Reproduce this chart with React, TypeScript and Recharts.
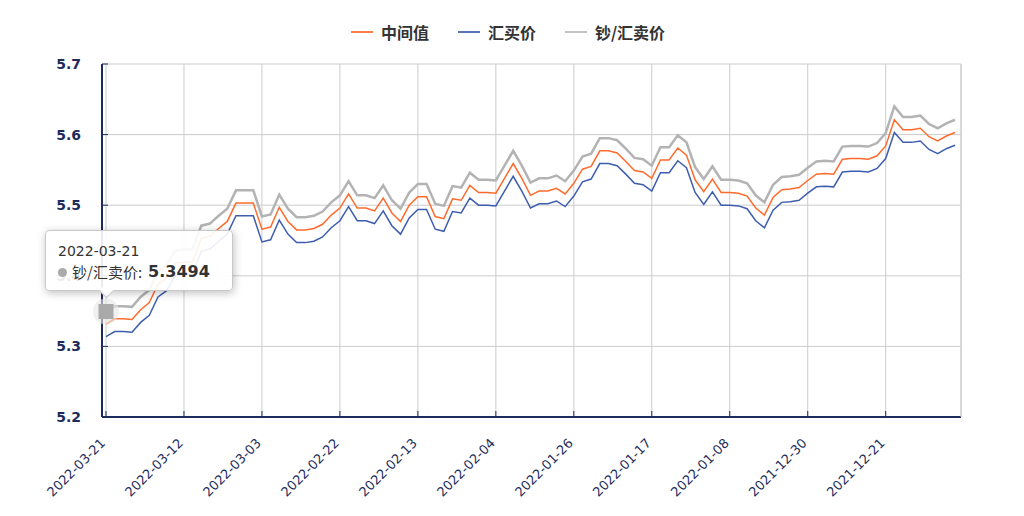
import { LineChart, Line, XAxis, YAxis, CartesianGrid, Tooltip, Legend } from "recharts";

// newest first, as in the source table
const dates = [
  "2022-03-21", "2022-03-20", "2022-03-19", "2022-03-18", "2022-03-17", "2022-03-16", "2022-03-15",
  "2022-03-14", "2022-03-13", "2022-03-12", "2022-03-11", "2022-03-10", "2022-03-09", "2022-03-08",
  "2022-03-07", "2022-03-06", "2022-03-05", "2022-03-04", "2022-03-03", "2022-03-02", "2022-03-01",
  "2022-02-28", "2022-02-27", "2022-02-26", "2022-02-25", "2022-02-24", "2022-02-23", "2022-02-22",
  "2022-02-21", "2022-02-20", "2022-02-19", "2022-02-18", "2022-02-17", "2022-02-16", "2022-02-15",
  "2022-02-14", "2022-02-13", "2022-02-12", "2022-02-11", "2022-02-10", "2022-02-09", "2022-02-08",
  "2022-02-07", "2022-02-06", "2022-02-05", "2022-02-04", "2022-02-03", "2022-02-02", "2022-02-01",
  "2022-01-31", "2022-01-30", "2022-01-29", "2022-01-28", "2022-01-27", "2022-01-26", "2022-01-25",
  "2022-01-24", "2022-01-23", "2022-01-22", "2022-01-21", "2022-01-20", "2022-01-19", "2022-01-18",
  "2022-01-17", "2022-01-16", "2022-01-15", "2022-01-14", "2022-01-13", "2022-01-12", "2022-01-11",
  "2022-01-10", "2022-01-09", "2022-01-08", "2022-01-07", "2022-01-06", "2022-01-05", "2022-01-04",
  "2022-01-03", "2022-01-02", "2022-01-01", "2021-12-31", "2021-12-30", "2021-12-29", "2021-12-28",
  "2021-12-27", "2021-12-26", "2021-12-25", "2021-12-24", "2021-12-23", "2021-12-22", "2021-12-21",
  "2021-12-20", "2021-12-19", "2021-12-18", "2021-12-17", "2021-12-16", "2021-12-15", "2021-12-14",
  "2021-12-13",
];

const midRate = [
  5.3316, 5.339, 5.339, 5.338, 5.352, 5.362, 5.388, 5.397, 5.418, 5.419, 5.42, 5.453, 5.456, 5.467,
  5.477, 5.503, 5.503, 5.503, 5.466, 5.469, 5.497, 5.477, 5.465, 5.465, 5.467, 5.473, 5.486, 5.496,
  5.516, 5.496, 5.496, 5.492, 5.51, 5.489, 5.477, 5.5, 5.512, 5.512, 5.484, 5.481, 5.509, 5.507,
  5.528, 5.518, 5.518, 5.517, 5.538, 5.559, 5.538, 5.514, 5.52, 5.52, 5.524, 5.516, 5.531, 5.551,
  5.555, 5.577, 5.577, 5.574, 5.562, 5.549, 5.547, 5.538, 5.564, 5.564, 5.581, 5.571, 5.536, 5.519,
  5.537, 5.518, 5.518, 5.517, 5.513, 5.496, 5.486, 5.511, 5.522, 5.523, 5.525, 5.535, 5.544, 5.545,
  5.544, 5.565, 5.566, 5.566, 5.565, 5.57, 5.584, 5.621, 5.607, 5.607, 5.609, 5.597, 5.591, 5.598,
  5.603,
];

const buyRate = [
  5.3138, 5.321, 5.321, 5.32, 5.334, 5.344, 5.37, 5.379, 5.4, 5.401, 5.402, 5.435, 5.438, 5.449,
  5.459, 5.485, 5.485, 5.485, 5.448, 5.451, 5.479, 5.459, 5.447, 5.447, 5.449, 5.455, 5.468, 5.478,
  5.498, 5.478, 5.478, 5.474, 5.492, 5.471, 5.459, 5.482, 5.494, 5.494, 5.466, 5.463, 5.491, 5.489,
  5.51, 5.5, 5.5, 5.499, 5.52, 5.541, 5.52, 5.496, 5.502, 5.502, 5.506, 5.498, 5.513, 5.533,
  5.537, 5.559, 5.559, 5.556, 5.544, 5.531, 5.529, 5.52, 5.546, 5.546, 5.563, 5.553, 5.518, 5.501,
  5.519, 5.5, 5.5, 5.499, 5.495, 5.478, 5.468, 5.493, 5.504, 5.505, 5.507, 5.517, 5.526, 5.527,
  5.526, 5.547, 5.548, 5.548, 5.547, 5.552, 5.566, 5.603, 5.589, 5.589, 5.591, 5.579, 5.573, 5.58,
  5.585,
];

const sellRate = [
  5.3494, 5.357, 5.357, 5.356, 5.37, 5.38, 5.406, 5.415, 5.436, 5.437, 5.438, 5.471, 5.474, 5.485,
  5.495, 5.521, 5.521, 5.521, 5.484, 5.487, 5.515, 5.495, 5.483, 5.483, 5.485, 5.491, 5.504, 5.514,
  5.534, 5.514, 5.514, 5.51, 5.528, 5.507, 5.495, 5.518, 5.53, 5.53, 5.502, 5.499, 5.527, 5.525,
  5.546, 5.536, 5.536, 5.535, 5.556, 5.577, 5.556, 5.532, 5.538, 5.538, 5.542, 5.534, 5.549, 5.569,
  5.573, 5.595, 5.595, 5.592, 5.58, 5.567, 5.565, 5.556, 5.582, 5.582, 5.599, 5.589, 5.554, 5.537,
  5.555, 5.536, 5.536, 5.535, 5.531, 5.514, 5.504, 5.529, 5.54, 5.541, 5.543, 5.553, 5.562, 5.563,
  5.562, 5.583, 5.584, 5.584, 5.583, 5.588, 5.602, 5.64, 5.625, 5.625, 5.627, 5.615, 5.609, 5.616,
  5.621,
];

const yTicks = [5.2, 5.3, 5.4, 5.5, 5.6, 5.7];

const SERIES = [
  { key: "mid", name: "中间值", color: "#ff6b2c", legend: "#fb7d47", width: 1.5 },
  { key: "buy", name: "汇买价", color: "#3d5daf", legend: "#5a72b9", width: 1.5 },
  { key: "sell", name: "钞/汇卖价", color: "#b3b3b3", legend: "#c4c4c4", width: 2.5 },
];

const data = dates.map((date, i) => ({ date, mid: midRate[i], buy: buyRate[i], sell: sellRate[i] }));

const NAVY = "#1d2b5c";
const CJK = "'Noto Sans CJK SC', 'Noto Sans', sans-serif";
const LATIN = "'DejaVu Sans', Verdana, sans-serif";

function DateTick({ x, y, payload }: any) {
  return (
    <text
      x={x}
      y={y}
      transform={`rotate(-45 ${x} ${y})`}
      textAnchor="end"
      fill={NAVY}
      fontSize={13}
      fontFamily={LATIN}
    >
      {payload.value}
    </text>
  );
}

function LegendRow() {
  return (
    <div style={{ display: "flex", justifyContent: "center", gap: 29, height: 24, alignItems: "center" }}>
      {SERIES.map((s) => (
        <div key={s.key} style={{ display: "flex", alignItems: "center" }}>
          <span style={{ width: 22, height: 2, background: s.legend, marginRight: 8, display: "inline-block" }} />
          <span style={{ fontFamily: CJK, fontSize: 16, fontWeight: 700, color: "#333" }}>{s.name}</span>
        </div>
      ))}
    </div>
  );
}

function TipBox({ active, payload, label }: any) {
  if (!active || !payload || !payload.length) return null;
  const item = payload.find((p: any) => p.dataKey === "sell") || payload[0];
  return (
    <div
      style={{
        position: "relative",
        width: 162,
        padding: "10px 12px 7px",
        background: "rgba(255,255,255,0.9)",
        border: "1px solid #c8c8c8",
        borderRadius: 4,
        boxShadow: "1px 2px 8px rgba(0,0,0,0.25)",
        fontFamily: LATIN,
        color: "#333",
      }}
    >
      <div style={{ fontSize: 14, lineHeight: "20px" }}>{label}</div>
      <div style={{ display: "flex", alignItems: "center", lineHeight: "22px" }}>
        <span style={{ width: 9, height: 9, borderRadius: 5, background: "#aaa", marginRight: 5 }} />
        <span style={{ fontFamily: CJK, fontSize: 15 }}>{item.name}: </span>
        <b style={{ fontSize: 16, marginLeft: 6 }}>{Number(item.value).toFixed(4)}</b>
      </div>
      <span
        style={{
          position: "absolute",
          left: 55,
          bottom: -6,
          width: 10,
          height: 10,
          background: "rgba(255,255,255,0.95)",
          borderRight: "1px solid #c8c8c8",
          borderBottom: "1px solid #c8c8c8",
          transform: "rotate(45deg)",
        }}
      />
    </div>
  );
}

function SquareDot({ cx, cy }: any) {
  return (
    <g>
      <circle cx={cx} cy={cy} r={13} fill="#e6e6e6" fillOpacity={0.6} />
      <rect x={cx - 7.5} y={cy - 7.5} width={15} height={15} fill="#aaaaaa" />
    </g>
  );
}

export default function App() {
  return (
    <div style={{ position: "relative", width: 1024, height: 516, background: "#fff" }}>
      <style>{"body{margin:0;}"}</style>
      <LineChart
        width={1024}
        height={516}
        data={data}
        margin={{ top: 40, right: 62, bottom: 9, left: 0 }}
      >
        <Legend verticalAlign="top" content={<LegendRow />} wrapperStyle={{ top: 20, left: -4, width: 1024 }} />
        <CartesianGrid stroke="#cccccc" strokeWidth={1} />
        <XAxis
          dataKey="date"
          interval={8}
          height={90}
          padding={{ left: 4, right: 6 }}
          axisLine={{ stroke: NAVY, strokeWidth: 2 }}
          tickLine={{ stroke: NAVY }}
          tickSize={-6}
          tickMargin={33}
          tick={<DateTick />}
        />
        <YAxis
          domain={[5.2, 5.7]}
          ticks={yTicks}
          width={102}
          axisLine={{ stroke: NAVY, strokeWidth: 2 }}
          tickLine={{ stroke: NAVY }}
          tickSize={-6}
          tickMargin={27}
          tickFormatter={(v: number) => v.toFixed(1)}
          tick={{ fill: NAVY, fontSize: 14, fontWeight: 700, fontFamily: LATIN }}
        />
        <YAxis
          yAxisId="edge"
          orientation="right"
          domain={[5.2, 5.7]}
          width={1}
          tick={false}
          tickLine={false}
          axisLine={{ stroke: "#cccccc" }}
        />
        <Tooltip
          content={<TipBox />}
          defaultIndex={0}
          active={true}
          cursor={false}
          position={{ x: 45, y: 230 }}
          wrapperStyle={{ outline: "none" }}
          isAnimationActive={false}
        />
        {SERIES.map((s) => (
          <Line
            key={s.key}
            type="linear"
            dataKey={s.key}
            name={s.name}
            stroke={s.color}
            strokeWidth={s.width}
            dot={false}
            activeDot={s.key === "sell" ? <SquareDot /> : false}
            isAnimationActive={false}
          />
        ))}
      </LineChart>
    </div>
  );
}
